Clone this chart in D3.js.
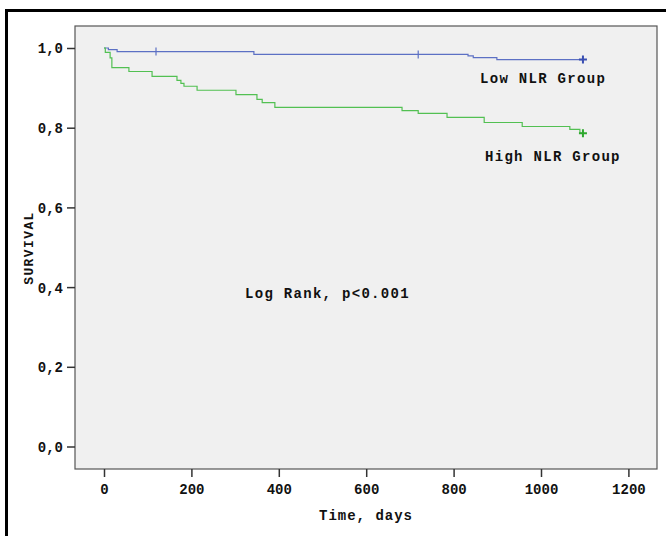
<!DOCTYPE html>
<html>
<head>
<meta charset="utf-8">
<script src="https://cdn.jsdelivr.net/npm/d3@7"></script>
<style>
  body { margin: 0; background: #fff; }
  text { font-family: "Liberation Mono", "Courier New", monospace; font-weight: bold; fill: #111; }
</style>
</head>
<body>
<div id="chart"></div>
<script>
// Kaplan-Meier data
const lowTime = [0, 10, 30, 343, 833, 845, 899, 1096];
const lowSurv = [1.0, 0.996, 0.991, 0.984, 0.980, 0.976, 0.971, 0.971];
const lowCensor = [119, 719];

const highTime = [0, 3, 14, 18, 57, 110, 167, 176, 183, 213, 302, 350, 362, 391, 682, 719, 785, 870, 957, 1066, 1089, 1096];
const highSurv = [1.0, 0.989, 0.975, 0.951, 0.941, 0.929, 0.919, 0.911, 0.904, 0.894, 0.883, 0.871, 0.863, 0.851, 0.843, 0.836, 0.826, 0.813, 0.803, 0.796, 0.786, 0.786];
const highCensor = [];

const xTicks = [0, 200, 400, 600, 800, 1000, 1200];
const yTicks = [0, 0.2, 0.4, 0.6, 0.8, 1.0];

const width = 666, height = 536;
// plot box
const box = { left: 75, right: 657, top: 26, bottom: 469 };

const svg = d3.select("#chart").append("svg")
    .attr("width", width)
    .attr("height", height);

// outer frame (right/bottom run off the page)
svg.append("rect")
    .attr("x", 6.5).attr("y", 10.5)
    .attr("width", 700).attr("height", 600)
    .attr("fill", "none")
    .attr("stroke", "#000")
    .attr("stroke-width", 3);

let x = d3.scaleLinear().domain([0, 1000]).range([104, 541]);
let y = d3.scaleLinear().domain([0, 1]).range([446.5, 48]);

svg.append("rect")
    .attr("x", box.left).attr("y", box.top)
    .attr("width", box.right - box.left)
    .attr("height", box.bottom - box.top)
    .attr("fill", "#f0f0f0")
    .attr("stroke", "#555")
    .attr("stroke-width", 1.2);

// axes
let xAxis = d3.axisBottom(x).tickValues(xTicks).tickSize(8).tickPadding(7)
    .tickFormat(d3.format("d"));
let yAxis = d3.axisLeft(y).tickValues(yTicks).tickSize(8).tickPadding(4)
    .tickFormat(d => d3.format(".1f")(d).replace(".", ","));

let gx = svg.append("g").attr("transform", `translate(0,${box.bottom})`).call(xAxis);
let gy = svg.append("g").attr("transform", `translate(${box.left},0)`).call(yAxis);
[gx, gy].forEach(g => {
    g.select(".domain").remove();
    g.selectAll(".tick line").attr("stroke", "#333").attr("stroke-width", 1.5);
    g.selectAll(".tick text")
        .attr("font-family", "Liberation Mono")
        .attr("font-weight", "bold")
        .attr("font-size", 14)
        .attr("fill", "#111");
});
gy.selectAll(".tick text").attr("dy", "0.35em");

svg.append("text")
    .attr("x", 366).attr("y", 520)
    .attr("text-anchor", "middle")
    .attr("font-size", 14)
    .attr("letter-spacing", 1)
    .text("Time, days");

svg.append("text")
    .attr("transform", "translate(33,248) rotate(-90)")
    .attr("text-anchor", "middle")
    .attr("font-size", 13)
    .attr("letter-spacing", 1.4)
    .text("SURVIVAL");

// curves
let line = d3.line()
    .x(d => x(d[0]))
    .y(d => y(d[1]))
    .curve(d3.curveStepAfter);

function drawCurve(times, surv, censor, color, markColor) {
    let pts = times.map((t, i) => [t, surv[i]]);
    svg.append("path")
        .datum(pts)
        .attr("d", line)
        .attr("fill", "none")
        .attr("stroke", color)
        .attr("stroke-width", 1.2);

    // censor ticks
    censor.forEach(t => {
        let i = d3.bisectRight(times, t) - 1;
        let s = surv[Math.max(i, 0)];
        svg.append("line")
            .attr("x1", x(t)).attr("x2", x(t))
            .attr("y1", y(s) - 4).attr("y2", y(s) + 4)
            .attr("stroke", color)
            .attr("stroke-width", 1.2);
    });

    // end mark "+"
    let tEnd = times[times.length - 1], sEnd = surv[surv.length - 1];
    svg.append("path")
        .attr("d", `M${x(tEnd) - 4},${y(sEnd)}h8M${x(tEnd)},${y(sEnd) - 4}v8`)
        .attr("stroke", markColor)
        .attr("stroke-width", 2);
}

drawCurve(lowTime, lowSurv, lowCensor, "#5c70c4", "#3a4fb2");
drawCurve(highTime, highSurv, highCensor, "#52c052", "#2ea82e");

// annotations
const labelStyle = { size: 14, spacing: 1.3 };
function label(tx, ty, str) {
    svg.append("text")
        .attr("x", tx).attr("y", ty)
        .attr("font-size", labelStyle.size)
        .attr("letter-spacing", labelStyle.spacing)
        .text(str);
}
label(480, 83, "Low NLR Group");
label(485, 161, "High NLR Group");
label(245, 298, "Log Rank, p<0.001");
</script>
</body>
</html>
